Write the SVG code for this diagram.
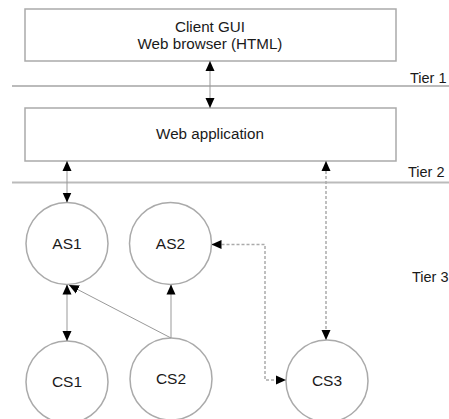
<svg xmlns="http://www.w3.org/2000/svg" width="449" height="419" viewBox="0 0 449 419">
  <defs>
    <marker id="arrow" viewBox="0 0 10 10" refX="10" refY="5" markerWidth="10" markerHeight="10" markerUnits="userSpaceOnUse" orient="auto-start-reverse">
      <path d="M0,0.5 L10,5 L0,9.5 z" fill="#000"/>
    </marker>
    <style>
      .box { fill: #fff; stroke: #aaa; stroke-width: 1.5; }
      .node { fill: #fff; stroke: #aaa; stroke-width: 1.5; }
      .tier { stroke: #bbb; stroke-width: 2; fill: none; }
      .link { stroke: #999; stroke-width: 1; fill: none; }
      .dash { stroke: #aaa; stroke-width: 1.5; fill: none; stroke-dasharray: 3 2; }
      text { font-family: "Liberation Sans", Arial, sans-serif; fill: #1a1a1a; }
      .lbl { font-size: 15.2px; text-anchor: middle; }
      .nlbl { font-size: 15.5px; text-anchor: middle; }
      .tlbl { font-size: 14.5px; }
    </style>
  </defs>

  <!-- tier separators -->
  <g id="tiers">
    <line class="tier" x1="12" y1="86" x2="449" y2="86"/>
    <line class="tier" x1="12" y1="182.5" x2="449" y2="182.5"/>
    <text class="tlbl" x="410" y="83">Tier 1</text>
    <text class="tlbl" x="408" y="177">Tier 2</text>
    <text class="tlbl" x="412" y="282">Tier 3</text>
  </g>

  <g id="client">
    <rect class="box" x="25" y="9" width="371" height="52"/>
    <text class="lbl" x="210" y="32">Client GUI</text>
    <text class="lbl" x="210" y="49">Web browser (HTML)</text>
  </g>

  <g id="webapp">
    <rect class="box" x="25" y="108" width="371" height="53"/>
    <text class="lbl" x="210" y="139">Web application</text>
  </g>

  <g id="as1">
    <circle class="node" cx="67" cy="243.5" r="41"/>
    <text class="nlbl" x="67" y="248.5">AS1</text>
  </g>
  <g id="as2">
    <circle class="node" cx="170.5" cy="243.5" r="41"/>
    <text class="nlbl" x="170.5" y="248.5">AS2</text>
  </g>
  <g id="cs1">
    <circle class="node" cx="67" cy="382" r="41"/>
    <text class="nlbl" x="67" y="387">CS1</text>
  </g>
  <g id="cs2">
    <circle class="node" cx="171" cy="379" r="41"/>
    <text class="nlbl" x="171" y="384">CS2</text>
  </g>
  <g id="cs3">
    <circle class="node" cx="327" cy="381" r="41"/>
    <text class="nlbl" x="327" y="386">CS3</text>
  </g>

  <g id="connectors">
    <line class="link" x1="210" y1="61" x2="210" y2="108" marker-start="url(#arrow)" marker-end="url(#arrow)"/>
    <line class="link" x1="67" y1="161" x2="67" y2="202.5" marker-start="url(#arrow)" marker-end="url(#arrow)"/>
    <line class="link" x1="67" y1="284.5" x2="67" y2="341" marker-start="url(#arrow)" marker-end="url(#arrow)"/>
    <line class="link" x1="171" y1="338" x2="171" y2="284.5" marker-end="url(#arrow)"/>
    <line class="link" x1="171" y1="338" x2="69" y2="285" marker-end="url(#arrow)"/>
    <line class="dash" x1="326" y1="161" x2="326" y2="340" marker-start="url(#arrow)" marker-end="url(#arrow)"/>
    <polyline class="dash" points="211.5,244.5 265,244.5 265,380 286,380" marker-start="url(#arrow)" marker-end="url(#arrow)"/>
  </g>
</svg>
